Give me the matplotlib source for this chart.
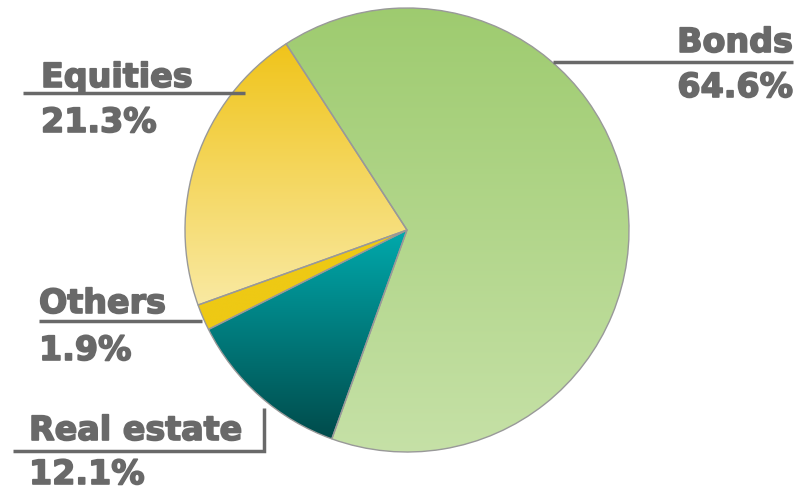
import numpy as np
import matplotlib.pyplot as plt
import matplotlib.patheffects as pe
from matplotlib.colors import LinearSegmentedColormap

# data
labels = ['Bonds', 'Real estate', 'Others', 'Equities']
shares = [64.6, 12.1, 1.9, 21.3]
# gradient colours (top, bottom) per slice
tops = ['#9ecb6f', '#00a9ac', '#eec914', '#f0c41a']
bottoms = ['#c6e1a7', '#004b4b', '#eec914', '#f9e9a2']

txt_col = '#696969'
W, H = 801, 491

fig = plt.figure(figsize=(W / 100, H / 100), dpi=100)
ax = fig.add_axes([0, 0, 1, 1])

cx, cy, r = 407, H - 230, 222
wedges, _ = ax.pie(shares, startangle=123, counterclock=False,
                   center=(cx, cy), radius=r, frame=True,
                   wedgeprops=dict(edgecolor='#999999', linewidth=1.0))

# gradient fill for each slice, clipped to the wedge
for w, c0, c1 in zip(wedges, tops, bottoms):
    w.set_facecolor('none')
    verts = w.get_patch_transform().transform(w.get_path().vertices)
    x0, x1 = verts[:, 0].min(), verts[:, 0].max()
    y0, y1 = verts[:, 1].min(), verts[:, 1].max()
    cmap = LinearSegmentedColormap.from_list('g', [c1, c0])
    grad = np.linspace(0, 1, 256).reshape(-1, 1)
    im = ax.imshow(grad, cmap=cmap, extent=[x0, x1, y0, y1], origin='lower',
                   aspect='auto', zorder=0.5, interpolation='bilinear')
    im.set_clip_path(w)

ax.set_xlim(0, W)
ax.set_ylim(0, H)
ax.set_aspect('equal')
ax.axis('off')

kw = dict(color=txt_col, fontsize=24, fontweight='bold', family='DejaVu Sans',
          path_effects=[pe.withStroke(linewidth=1.2, foreground=txt_col)])

def label(name, val, x, y_name, y_val, ha):
    ax.text(x, H - y_name, name, ha=ha, va='baseline', **kw)
    ax.text(x, H - y_val, '%.1f%%' % val, ha=ha, va='baseline', **kw)

lkw = dict(color=txt_col, lw=2.5, solid_capstyle='butt', solid_joinstyle='miter')

# Bonds
label(labels[0], shares[0], 793, 52, 97, 'right')
ax.plot([553, 793], [H - 62, H - 62], **lkw)
# Equities
label(labels[3], shares[3], 41, 87, 132, 'left')
ax.plot([23, 245], [H - 93, H - 93], **lkw)
# Others
label(labels[2], shares[2], 39, 313, 360, 'left')
ax.plot([39, 202], [H - 321, H - 321], **lkw)
# Real estate
label(labels[1], shares[1], 29, 440, 484, 'left')
ax.plot([13, 264, 264], [H - 451, H - 451, H - 408], **lkw)

fig.savefig('out.png', dpi=100)
